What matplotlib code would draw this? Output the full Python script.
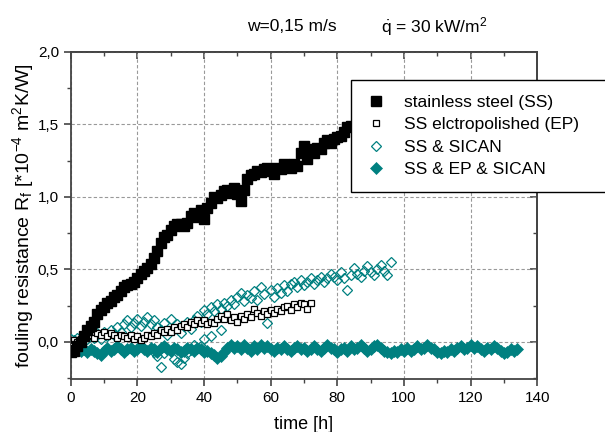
import numpy as np
import matplotlib.pyplot as plt
from matplotlib.ticker import MultipleLocator, FuncFormatter, NullFormatter

plt.rcParams['font.family'] = ['Liberation Sans', 'DejaVu Sans']
plt.rcParams['mathtext.fontset'] = 'custom'
plt.rcParams['mathtext.rm'] = 'Liberation Sans'
plt.rcParams['mathtext.it'] = 'Liberation Sans:italic'

# stainless steel (SS), filled squares
t_ss = np.arange(0, 85)
r_ss = [-0.07, -0.06, -0.03, 0.00, 0.04, 0.08, 0.11, 0.14, 0.19, 0.22,
        0.24, 0.27, 0.28, 0.31, 0.32, 0.35, 0.38, 0.39, 0.40, 0.41,
        0.44, 0.47, 0.49, 0.51, 0.54, 0.58, 0.63, 0.68, 0.72, 0.74,
        0.77, 0.80, 0.81, 0.81, 0.80, 0.82, 0.87, 0.89, 0.86, 0.91,
        0.85, 0.92, 0.96, 1.00, 0.99, 1.01, 1.04, 1.05, 1.03, 1.06,
        1.02, 0.97, 1.05, 1.12, 1.15, 1.16, 1.18, 1.17, 1.19, 1.20,
        1.18, 1.16, 1.20, 1.19, 1.23, 1.22, 1.20, 1.23, 1.21, 1.30,
        1.35, 1.26, 1.33, 1.30, 1.34, 1.33, 1.37, 1.39, 1.37, 1.40,
        1.41, 1.42, 1.45, 1.48, 1.49]

# SS electropolished (EP), open squares
t_ep = np.arange(0, 73)
r_ep = [0.00, 0.01, 0.00, 0.02, 0.03, 0.04, 0.05, 0.03, 0.06, 0.05,
        0.07, 0.04, 0.06, 0.05, 0.03, 0.05, 0.04, 0.03, 0.05, 0.02,
        0.04, 0.01, 0.03, 0.05, 0.04, 0.06, 0.05, 0.08, 0.07, 0.09,
        0.07, 0.10, 0.08, 0.11, 0.12, 0.10, 0.14, 0.12, 0.15, 0.13,
        0.15, 0.12, 0.14, 0.13, 0.16, 0.18, 0.16, 0.19, 0.15, 0.17,
        0.14, 0.18, 0.16, 0.19, 0.17, 0.23, 0.20, 0.18, 0.21, 0.19,
        0.22, 0.20, 0.23, 0.21, 0.24, 0.25, 0.22, 0.26, 0.24, 0.27,
        0.26, 0.23, 0.27]

# SS & SICAN, open diamonds
t_sican = list(range(0, 97)) + [25, 26, 27, 28, 29, 30, 31, 32, 33, 34,
                                35, 36, 37, 39, 40, 42, 45]
r_sican = [0.02, 0.01, 0.03, 0.00, 0.04, 0.02, 0.05, 0.03, 0.06, 0.02,
           0.07, 0.04, 0.08, 0.05, 0.10, 0.07, 0.12, 0.15, 0.10, 0.13,
           0.16, 0.11, 0.14, 0.17, 0.12, 0.15, 0.10, 0.08, 0.13, 0.05,
           0.16, 0.09, 0.12, 0.06, 0.11, 0.14, 0.09, 0.15, 0.18, 0.14,
           0.22, 0.19, 0.24, 0.21, 0.26, 0.23, 0.27, 0.25, 0.29, 0.26,
           0.31, 0.34, 0.28, 0.32, 0.30, 0.35, 0.29, 0.38, 0.33, 0.13,
           0.36, 0.31, 0.37, 0.34, 0.39, 0.35, 0.40, 0.41, 0.38, 0.43,
           0.39, 0.41, 0.44, 0.40, 0.43, 0.45, 0.41, 0.44, 0.47, 0.45,
           0.43, 0.48, 0.44, 0.36, 0.46, 0.51, 0.47, 0.45, 0.49, 0.52,
           0.48, 0.46, 0.50, 0.53, 0.49, 0.46, 0.55,
           -0.07, -0.10, -0.17, -0.08, -0.04, -0.06, -0.12, -0.14, -0.15, -0.11,
           -0.08, -0.05, -0.02, -0.03, 0.02, 0.04, 0.08]

# SS & EP & SICAN, filled diamonds
t_all = np.arange(0, 135)
r_all = [-0.03, -0.05, -0.04, -0.06, -0.05, -0.07, -0.05, -0.06, -0.08, -0.09,
         -0.06, -0.04, -0.06, -0.05, -0.03, -0.05, -0.07, -0.05, -0.04, -0.06,
         -0.05, -0.03, -0.05, -0.06, -0.04, -0.05, -0.07, -0.04, -0.03, -0.05,
         -0.06, -0.04, -0.05, -0.07, -0.06, -0.04, -0.05, -0.06, -0.04, -0.05,
         -0.07, -0.06, -0.08, -0.09, -0.11, -0.10, -0.07, -0.04, -0.02, -0.04,
         -0.03, -0.05, -0.02, -0.04, -0.06, -0.03, -0.05, -0.02, -0.04, -0.03,
         -0.05, -0.06, -0.04, -0.05, -0.03, -0.05, -0.06, -0.04, -0.03, -0.05,
         -0.04, -0.06, -0.05, -0.03, -0.05, -0.06, -0.04, -0.02, -0.04, -0.05,
         -0.07, -0.05, -0.04, -0.06, -0.03, -0.05, -0.04, -0.02, -0.04, -0.06,
         -0.05, -0.03, -0.02, -0.04, -0.06, -0.07, -0.08, -0.06, -0.07, -0.05,
         -0.06, -0.04, -0.06, -0.05, -0.03, -0.05, -0.04, -0.02, -0.04, -0.05,
         -0.07, -0.08, -0.06, -0.07, -0.05, -0.06, -0.04, -0.03, -0.05, -0.04,
         -0.02, -0.04, -0.03, -0.05, -0.06, -0.04, -0.05, -0.03, -0.04, -0.06,
         -0.08, -0.07, -0.05, -0.06, -0.05]

teal = '#008080'
axcol = '#444444'

fig = plt.figure(figsize=(6.05, 4.32), dpi=100)
ax = fig.add_axes([0.117, 0.123, 0.771, 0.757])

ax.plot(t_all, r_all, 'D', color=teal, markersize=6, markeredgewidth=0.5,
        label='SS & EP & SICAN', zorder=2)
ax.plot(t_sican, r_sican, 'D', markerfacecolor='none', markeredgecolor=teal,
        markersize=5, markeredgewidth=0.9, label='SS & SICAN', zorder=3)
ax.plot(t_ep, r_ep, 's', markerfacecolor='white', markeredgecolor='black',
        markersize=5, markeredgewidth=0.9, label='SS elctropolished (EP)', zorder=4)
ax.plot(t_ss, r_ss, 's', color='black', markersize=6.5,
        label='stainless steel (SS)', zorder=5)

ax.set_xlim(0, 140)
ax.set_ylim(-0.255, 2.0)
ax.xaxis.set_major_locator(MultipleLocator(20))
ax.xaxis.set_minor_locator(MultipleLocator(10))
ax.yaxis.set_major_locator(MultipleLocator(0.5))
ax.yaxis.set_minor_locator(MultipleLocator(0.25))
ax.yaxis.set_major_formatter(FuncFormatter(lambda v, p: f'{v:.1f}'.replace('.', ',')))

ax.grid(True, which='major', linestyle=(0, (3, 2)), color='#999999', linewidth=0.8)
for s in ax.spines.values():
    s.set_color(axcol)
    s.set_linewidth(1.3)
ax.tick_params(which='both', direction='out', colors=axcol, labelcolor='black',
               labelsize=11)
ax.tick_params(which='major', length=5, width=1.2)
ax.tick_params(which='minor', length=3, width=1.0)

# mirrored ticks pointing inward on top and right
top = ax.secondary_xaxis('top')
top.xaxis.set_major_locator(MultipleLocator(20))
top.xaxis.set_minor_locator(MultipleLocator(10))
top.xaxis.set_major_formatter(NullFormatter())
right = ax.secondary_yaxis('right')
right.yaxis.set_major_locator(MultipleLocator(0.5))
right.yaxis.set_minor_locator(MultipleLocator(0.25))
right.yaxis.set_major_formatter(NullFormatter())
for sec in (top, right):
    sec.tick_params(which='both', direction='in', colors=axcol)
    sec.tick_params(which='major', length=5, width=1.2)
    sec.tick_params(which='minor', length=3, width=1.0)
    for s in sec.spines.values():
        s.set_color(axcol)
        s.set_linewidth(1.3)

ax.set_xlabel('time [h]', fontsize=13, labelpad=8)
ax.set_ylabel('fouling resistance R$_\\mathrm{f}$ [*10$^{-4}$ m$^2$K/W]',
              fontsize=14, labelpad=1)

fig.text(0.483, 0.938, 'w=0,15 m/s', fontsize=12.5, ha='center', va='center')
fig.text(0.717, 0.938, '$\\mathrm{\\dot{q}}$ = 30 kW/m$^2$', fontsize=12.5,
         ha='center', va='center')

h, l = ax.get_legend_handles_labels()
leg = ax.legend(h[::-1], l[::-1], loc='upper left',
                bbox_to_anchor=(0.58, 0.57, 0.43, 0.245), mode='expand',
                bbox_transform=fig.transFigure, fontsize=12.5, fancybox=False,
                framealpha=1, edgecolor='black', borderpad=0.85, borderaxespad=0,
                labelspacing=0.42, handletextpad=1.0, handlelength=1.2,
                markerscale=1.0)
leg.get_frame().set_linewidth(1.0)
leg.set_zorder(10)

fig.savefig('out.png', dpi=100)
